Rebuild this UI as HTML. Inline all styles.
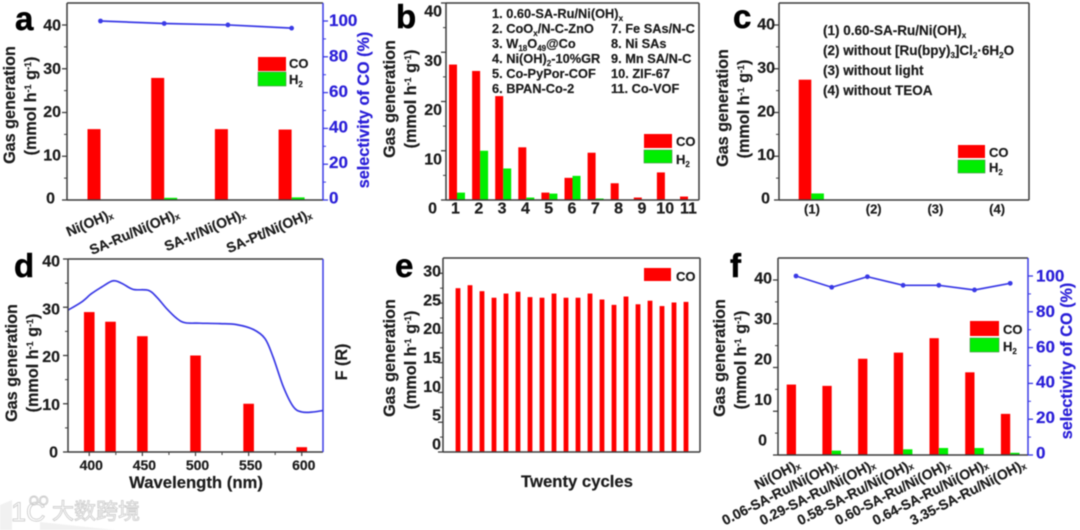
<!DOCTYPE html>
<html lang="en">
<head>
<meta charset="utf-8">
<title>Photocatalytic gas generation panels</title>
<style>
html,body{margin:0;padding:0;background:#fff;}
#figure{display:block;width:1080px;height:530px;filter:blur(0.6px);font-family:"Liberation Sans","Noto Sans CJK SC",sans-serif;font-weight:bold;}
text{fill:#1c1c1c;stroke:#1c1c1c;stroke-width:.2px;}
text.blue{fill:#2a1fd8;stroke:#2a1fd8;}
.letter{font-size:33px;fill:#000;stroke:#000;stroke-width:.5px;}
.title{font-size:16.2px;text-anchor:middle;}
.xtitle{font-size:16.7px;}
.list{font-size:12.8px;}
.clist{font-size:13.5px;}
.leg{font-size:13px;}
text.wm{fill:#fff;stroke:#cfcfcf;stroke-width:.9px;font-weight:normal;}
</style>
</head>
<body>
<svg id="figure" xmlns="http://www.w3.org/2000/svg" width="1080" height="530" viewBox="0 0 1080 530">
  <g id="layer-marks"></g>

  <!-- panel letters -->
  <text class="letter" x="15" y="30">a</text>
  <text class="letter" x="396" y="28">b</text>
  <text class="letter" x="733" y="28">c</text>
  <text class="letter" x="14" y="277">d</text>
  <text class="letter" x="395" y="277">e</text>
  <text class="letter" x="730" y="277">f</text>

  <!-- y axis titles -->
  <text class="title" transform="translate(15,105) rotate(-90)">Gas generation</text>
  <text class="title" transform="translate(36,106) rotate(-90)">(mmol h<tspan font-size="9" dy="-5">-1</tspan><tspan dy="5"> g</tspan><tspan font-size="9" dy="-5">-1</tspan><tspan dy="5">)</tspan></text>
  <text class="title blue" transform="translate(369,110) rotate(-90)">selectivity of CO (%)</text>

  <text class="title" transform="translate(395,99) rotate(-90)">Gas generation</text>
  <text class="title" transform="translate(416,99) rotate(-90)">(mmol h<tspan font-size="9" dy="-5">-1</tspan><tspan dy="5"> g</tspan><tspan font-size="9" dy="-5">-1</tspan><tspan dy="5">)</tspan></text>

  <text class="title" transform="translate(728,108) rotate(-90)">Gas generation</text>
  <text class="title" transform="translate(749,109) rotate(-90)">(mmol h<tspan font-size="9" dy="-5">-1</tspan><tspan dy="5"> g</tspan><tspan font-size="9" dy="-5">-1</tspan><tspan dy="5">)</tspan></text>

  <text class="title" transform="translate(17,363) rotate(-90)">Gas generation</text>
  <text class="title" transform="translate(38,363) rotate(-90)">(mmol h<tspan font-size="9" dy="-5">-1</tspan><tspan dy="5"> g</tspan><tspan font-size="9" dy="-5">-1</tspan><tspan dy="5">)</tspan></text>
  <text class="title" transform="translate(347,362) rotate(-90)">F (R)</text>
  <text class="title xtitle" x="196" y="488">Wavelength (nm)</text>

  <text class="title" transform="translate(395,358) rotate(-90)">Gas generation</text>
  <text class="title" transform="translate(416,360) rotate(-90)">(mmol h<tspan font-size="9" dy="-5">-1</tspan><tspan dy="5"> g</tspan><tspan font-size="9" dy="-5">-1</tspan><tspan dy="5">)</tspan></text>
  <text class="title xtitle" x="577" y="487">Twenty cycles</text>

  <text class="title" transform="translate(725,358) rotate(-90)">Gas generation</text>
  <text class="title" transform="translate(746,360) rotate(-90)">(mmol h<tspan font-size="9" dy="-5">-1</tspan><tspan dy="5"> g</tspan><tspan font-size="9" dy="-5">-1</tspan><tspan dy="5">)</tspan></text>
  <text class="title blue" transform="translate(1072,361) rotate(-90)">selectivity of CO (%)</text>

  <!-- panel b sample list -->
  <g class="list">
    <text x="492" y="18">1. 0.60-SA-Ru/Ni(OH)<tspan font-size="8" dy="3">x</tspan></text>
    <text x="492" y="33">2. CoO<tspan font-size="8" dy="3">x</tspan><tspan dy="-3">/N-C-ZnO</tspan></text>
    <text x="492" y="48">3. W<tspan font-size="8" dy="3">18</tspan><tspan dy="-3">O</tspan><tspan font-size="8" dy="3">49</tspan><tspan dy="-3">@Co</tspan></text>
    <text x="492" y="63">4. Ni(OH)<tspan font-size="8" dy="3">2</tspan><tspan dy="-3">-10%GR</tspan></text>
    <text x="492" y="78">5. Co-PyPor-COF</text>
    <text x="492" y="93">6. BPAN-Co-2</text>
    <text x="611" y="33">7. Fe SAs/N-C</text>
    <text x="611" y="48">8. Ni SAs</text>
    <text x="611" y="63">9. Mn SA/N-C</text>
    <text x="611" y="78">10. ZIF-67</text>
    <text x="611" y="93">11. Co-VOF</text>
  </g>

  <!-- panel c condition list -->
  <g class="clist">
    <text x="823" y="35">(1) 0.60-SA-Ru/Ni(OH)<tspan font-size="8" dy="3">x</tspan></text>
    <text x="823" y="55">(2) without [Ru(bpy)<tspan font-size="8" dy="3">3</tspan><tspan dy="-3">]Cl</tspan><tspan font-size="8" dy="3">2</tspan><tspan dy="-3">·6H</tspan><tspan font-size="8" dy="3">2</tspan><tspan dy="-3">O</tspan></text>
    <text x="823" y="75">(3) without light</text>
    <text x="823" y="95">(4) without TEOA</text>
  </g>

  <!-- legends -->
  <g class="leg">
    <rect x="258" y="57" width="28" height="14" fill="#f00"/>
    <rect x="258" y="72" width="28" height="14" fill="#00ee00" stroke="#4c8a4c" stroke-width=".6"/>
    <text x="289" y="68">CO</text>
    <text x="289" y="84">H<tspan font-size="8" dy="3">2</tspan></text>
  </g>
  <g class="leg">
    <rect x="644" y="134" width="28" height="14" fill="#f00"/>
    <rect x="644" y="150" width="28" height="13" fill="#00ee00" stroke="#4c8a4c" stroke-width=".6"/>
    <text x="676" y="146">CO</text>
    <text x="676" y="164">H<tspan font-size="8" dy="3">2</tspan></text>
  </g>
  <g class="leg">
    <rect x="958" y="145" width="27" height="13" fill="#f00"/>
    <rect x="958" y="160" width="27" height="13" fill="#00ee00" stroke="#4c8a4c" stroke-width=".6"/>
    <text x="989" y="157">CO</text>
    <text x="989" y="172">H<tspan font-size="8" dy="3">2</tspan></text>
  </g>
  <g class="leg">
    <rect x="644" y="268" width="27" height="13" fill="#f00"/>
    <text x="676" y="281">CO</text>
  </g>
  <g class="leg">
    <rect x="970" y="321" width="29" height="15" fill="#f00"/>
    <rect x="970" y="338" width="29" height="14" fill="#00ee00" stroke="#4c8a4c" stroke-width=".6"/>
    <text x="1003" y="334">CO</text>
    <text x="1003" y="351">H<tspan font-size="8" dy="3">2</tspan></text>
  </g>

  <!-- watermark -->
  <g>
    <path d="M0 505 L12 500 L12 530 L0 530 Z M40 522 L115 530 L40 530 Z" fill="#f1f1f1"/>
    <text class="wm" x="11" y="521" font-size="27">1C</text>
    <text class="wm" x="29" y="505" font-size="12.5">OO</text>
    <text class="wm" x="52" y="519" font-size="22">大数跨境</text>
  </g>
</svg>

<script>
// ---- Panel a ----
const aCategories = ["Ni(OH)_x", "SA-Ru/Ni(OH)_x", "SA-Ir/Ni(OH)_x", "SA-Pt/Ni(OH)_x"];
const aCO = [16.2, 27.9, 16.2, 16.1];
const aH2 = [0.1, 0.5, 0.1, 0.6];
const aSelectivity = [100, 98.6, 97.8, 96];
const aTicks = [0, 10, 20, 30, 40];
const aRightTicks = [0, 20, 40, 60, 80, 100];

// ---- Panel b ----
const bCategories = ["1", "2", "3", "4", "5", "6", "7", "8", "9", "10", "11"];
const bCO = [27.5, 26.2, 21.1, 10.7, 1.5, 4.5, 9.6, 3.4, 0.5, 5.6, 0.7];
const bH2 = [1.5, 10, 6.4, 0.5, 1.3, 4.9, 0.3, 0, 0, 0, 0];
const bTicks = [0, 10, 20, 30, 40];

// ---- Panel c ----
const cCategories = ["(1)", "(2)", "(3)", "(4)"];
const cCO = [27.5, 0, 0, 0];
const cH2 = [1.5, 0, 0, 0];
const cTicks = [0, 10, 20, 30, 40];

// ---- Panel d ----
const dWavelengths = [400, 420, 450, 500, 550, 600];
const dCO = [29, 27, 24, 20, 10, 1];
const dXTicks = [400, 450, 500, 550, 600];
const dTicks = [0, 10, 20, 30, 40];
const dCurveWavelength = [380, 392.9, 402, 411.7, 421, 425.8, 432, 441.5, 455.6, 463.5, 472.9, 482.3, 490, 504, 523, 538.7, 554.4, 565.4, 573, 582.7, 592, 600, 611, 620];
const dCurveFR = [29.4, 31.1, 32.8, 34.2, 35.4, 35.4, 34.8, 33.7, 33.5, 32.1, 29.7, 27.7, 26.8, 26.7, 26.6, 26.4, 25.4, 23.5, 19.7, 13.5, 9.4, 8.3, 8.3, 8.6];

// ---- Panel e ----
const eCycles = [1, 2, 3, 4, 5, 6, 7, 8, 9, 10, 11, 12, 13, 14, 15, 16, 17, 18, 19, 20];
const eCO = [27.5, 28, 27, 25.9, 26.6, 26.9, 26, 25.9, 26.6, 25.9, 25.9, 26.6, 25.6, 24.7, 26.1, 24.8, 25.4, 24.5, 25.1, 25.2];
const eTicks = [0, 5, 10, 15, 20, 25, 30];

// ---- Panel f ----
const fCategories = ["Ni(OH)_x", "0.06-SA-Ru/Ni(OH)_x", "0.29-SA-Ru/Ni(OH)_x", "0.58-SA-Ru/Ni(OH)_x", "0.60-SA-Ru/Ni(OH)_x", "0.64-SA-Ru/Ni(OH)_x", "3.35-SA-Ru/Ni(OH)_x"];
const fCO = [16.1, 15.8, 22, 23.4, 26.7, 18.9, 9.4];
const fH2 = [0.1, 1, 0, 1.3, 1.6, 1.6, 0.5];
const fSelectivity = [100, 93.7, 99.6, 94.8, 94.8, 92.2, 95.9];
const fTicks = [0, 10, 20, 30, 40];
const fRightTicks = [0, 20, 40, 60, 80, 100];

// ---- Drawing helpers ----
const SVGNS = "http://www.w3.org/2000/svg";
const layer = document.getElementById("layer-marks");
const DARK = "#3c3c3c", BLUE = "#3a3ae6", RED = "#ff0000", GREEN = "#00ee00";

function make(tag, name, attrs, parent) {
  const el = document.createElementNS(SVGNS, tag);
  
  
  for (const k in attrs) el.setAttribute(k, attrs[k]);
  (parent || layer).appendChild(el);
  return el;
}
function line(name, x1, y1, x2, y2, color, w) {
  return make("line", name, {x1: x1, y1: y1, x2: x2, y2: y2, stroke: color, "stroke-width": w || 1.5});
}
function linear(d0, d1, r0, r1) {
  return function (v) { return r0 + (v - d0) * (r1 - r0) / (d1 - d0); };
}
function label(name, x, y, str, size, anchor, color, transform) {
  const attrs = {x: x, y: y, "font-size": size, "text-anchor": anchor, "dominant-baseline": "central"};
  if (transform) { attrs.transform = transform; }
  const t = make("text", name, attrs);
  if (color) { t.style.fill = color; t.style.stroke = color; }
  const parts = String(str).split("_");
  t.appendChild(document.createTextNode(parts[0]));
  if (parts[1]) {
    const s = make("tspan", name + "-subscript", {"font-size": size * 0.62, dy: 3}, t);
    s.textContent = parts[1];
  }
  return t;
}
function frame(p, leftColor, rightColor, topColor, bottomColor) {
  line(p + "-top-border", p_l[p], p_t[p], p_r[p], p_t[p], topColor || DARK);
  line(p + "-bottom-axis", p_l[p], p_b[p], p_r[p], p_b[p], bottomColor || DARK);
  line(p + "-left-axis", p_l[p], p_t[p], p_l[p], p_b[p], leftColor || DARK);
  line(p + "-right-border", p_r[p], p_t[p], p_r[p], p_b[p], rightColor || DARK);
}
// panel boxes (layout only)
const p_l = {a: 67, b: 446, c: 779, d: 68, e: 443, f: 778};
const p_r = {a: 323, b: 699, c: 1029, d: 323, e: 700, f: 1028};
const p_t = {a: 3, b: 3, c: 3, d: 259, e: 258, f: 258};
const p_b = {a: 200, b: 200, c: 200, d: 452, e: 452, f: 455};

function yTicks(p, ticks, scale, labelScale, rightEdge, minorStep, zeroShift) {
  ticks.forEach(function (v) {
    line(p + "-y-tick", p_l[p] - 5, scale(v), p_l[p], scale(v), DARK, 1.3);
    label(p + "-y-tick-label", v === 0 ? rightEdge - zeroShift : rightEdge, labelScale(v), v, 16, "end");
    if (v !== ticks[ticks.length - 1]) {
      const m = scale(v + minorStep);
      line(p + "-y-minor-tick", p_l[p] - 3, m, p_l[p], m, DARK, 1);
    }
  });
}
function rightTicks(p, ticks, scale, labelScale, labelX) {
  ticks.forEach(function (v, i) {
    line(p + "-right-tick", p_r[p], scale(v), p_r[p] + 5, scale(v), BLUE, 1.3);
    label(p + "-right-tick-label", labelX, labelScale(v), v, 17, "start", "#2a1fd8");
    if (i < ticks.length - 1) {
      const m = scale((v + ticks[i + 1]) / 2);
      line(p + "-right-minor-tick", p_r[p], m, p_r[p] + 3, m, BLUE, 1);
    }
  });
}
function bars(p, series, x, y, bw, side, color, seriesName) {
  series.forEach(function (v, i) {
    if (v <= 0) return;
    const left = side === "co" ? x(i) - bw : x(i);
    make("rect", p + "-" + seriesName + "-bar", {x: left, y: y(v), width: bw, height: y(0) - y(v), fill: color});
  });
}
function selectivityLine(p, values, x, y) {
  const pts = values.map(function (v, i) { return x(i) + "," + y(v); }).join(" ");
  make("polyline", p + "-selectivity-line", {points: pts, fill: "none", stroke: BLUE, "stroke-width": 1.7});
  values.forEach(function (v, i) {
    make("circle", p + "-selectivity-point", {cx: x(i), cy: y(v), r: 2.4, fill: BLUE});
  });
}
function smoothPath(px, py) {
  let d = "M" + px[0] + " " + py[0];
  for (let i = 0; i < px.length - 1; i++) {
    const x0 = px[Math.max(i - 1, 0)], y0 = py[Math.max(i - 1, 0)];
    const x3 = px[Math.min(i + 2, px.length - 1)], y3 = py[Math.min(i + 2, py.length - 1)];
    d += " C" + (px[i] + (px[i + 1] - x0) / 6) + " " + (py[i] + (py[i + 1] - y0) / 6) + " " +
         (px[i + 1] - (x3 - px[i]) / 6) + " " + (py[i + 1] - (y3 - py[i]) / 6) + " " + px[i + 1] + " " + py[i + 1];
  }
  return d;
}

// ---- Panel a draw ----
(function () {
  const y = linear(0, 40, 200, 25);
  const yr = linear(0, 100, 200, 21);
  const x = function (i) { return 100.5 + i * 63.7; };
  bars("panel-a", aCO, x, y, 13, "co", RED, "co");
  bars("panel-a", aH2, x, y, 13, "h2", GREEN, "h2");
  frame("a", DARK, BLUE);
  yTicks("a", aTicks, y, linear(0, 40, 199, 26), 61, 5, 6);
  rightTicks("a", aRightTicks, yr, linear(0, 100, 198, 20.5), 329);
  selectivityLine("panel-a", aSelectivity, x, yr);
  aCategories.forEach(function (c, i) {
    const ex = 112 + i * 66.3, ey = 213;
    label("panel-a-category-label", ex, ey, c, 14, "end", null, "rotate(-23 " + ex + " " + ey + ")");
  });
})();

// ---- Panel b draw ----
(function () {
  const y = linear(0, 40, 200, 3);
  const x = function (i) { return 457 + i * 23.1; };
  bars("panel-b", bCO, x, y, 8, "co", RED, "co");
  bars("panel-b", bH2, x, y, 8, "h2", GREEN, "h2");
  frame("b");
  yTicks("b", bTicks, y, linear(0, 40, 209, 12), 442, 5, 5);
  bCategories.forEach(function (c, i) {
    label("panel-b-category-label", 455.5 + i * 23.3, 209, c, 16, "middle");
  });
})();

// ---- Panel c draw ----
(function () {
  const y = linear(0, 40, 200, 25);
  const x = function (i) { return 811.3 + i * 62; };
  bars("panel-c", cCO, x, y, 12.6, "co", RED, "co");
  bars("panel-c", cH2, x, y, 12.6, "h2", GREEN, "h2");
  frame("c");
  yTicks("c", cTicks, y, linear(0, 40, 199, 25), 775, 5, 5);
  cCategories.forEach(function (c, i) {
    label("panel-c-category-label", 812 + i * 61.7, 209, c, 13, "middle");
  });
})();

// ---- Panel d draw ----
(function () {
  const x = linear(380, 620, 68, 323);
  const y = linear(0, 40, 452, 259);
  dCO.forEach(function (v, i) {
    make("rect", "panel-d-co-bar", {x: x(dWavelengths[i]) - 5.3, y: y(v), width: 10.6, height: y(0) - y(v), fill: RED});
  });
  make("path", "panel-d-absorbance-curve", {d: smoothPath(dCurveWavelength.map(x), dCurveFR.map(y)), fill: "none", stroke: BLUE, "stroke-width": 1.7});
  frame("d", DARK, BLUE);
  yTicks("d", dTicks, y, linear(0, 40, 453, 262), 60, 5, 2);
  dXTicks.forEach(function (v) {
    line("panel-d-x-tick", x(v), 452, x(v), 456, DARK, 1.2);
    label("panel-d-x-tick-label", x(v) + 2, 465, v, 14, "middle");
    if (v < 600) {
      line("panel-d-x-minor-tick", x(v + 25), 452, x(v + 25), 455, DARK, 1);
    }
  });
})();

// ---- Panel e draw ----
(function () {
  const y = linear(0, 30, 452, 273.3);
  const x = function (i) { return 458 + i * 12; };
  eCO.forEach(function (v, i) {
    make("rect", "panel-e-co-bar", {x: x(i) - 2.4, y: y(v), width: 4.8, height: y(0) - y(v), fill: RED, "data-cycle": eCycles[i]});
  });
  frame("e");
  yTicks("e", eTicks, y, linear(0, 30, 445, 272), 441, 2.5, 0);
})();

// ---- Panel f draw ----
(function () {
  const y = linear(0, 40, 455, 280);
  const yr = linear(0, 100, 455, 276);
  const x = function (i) { return 796 + i * 35.7; };
  bars("panel-f", fCO, x, y, 9.3, "co", RED, "co");
  bars("panel-f", fH2, x, y, 9.3, "h2", GREEN, "h2");
  frame("f", DARK, BLUE);
  yTicks("f", fTicks, y, linear(0, 40, 441, 279), 772, 5, 5);
  rightTicks("f", fRightTicks, yr, linear(0, 100, 453, 276), 1036);
  selectivityLine("panel-f", fSelectivity, x, yr);
  fCategories.forEach(function (c, i) {
    const ex = 799 + i * 37.6, ey = 463;
    label("panel-f-category-label", ex, ey, c, 14, "end", null, "rotate(-27 " + ex + " " + ey + ")");
  });
})();
</script>
</body>
</html>
